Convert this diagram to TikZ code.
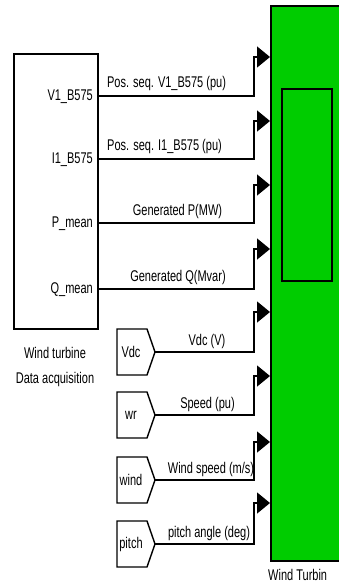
\documentclass[tikz,border=0pt]{standalone}
\usepackage{fontspec}
\setmainfont{Liberation Sans}[FakeStretch=0.71]
\usetikzlibrary{arrows.meta}
\definecolor{blkgreen}{RGB}{0,204,0}
\begin{document}
\begin{tikzpicture}[x=1pt,y=-1pt,
  txt/.style={font=\fontsize{15.5}{15.5}\selectfont, inner sep=0pt},
  conn/.style={line width=1.4pt, -{Triangle[length=13pt,width=21pt]}},
  blk/.style={draw=black, line width=1.4pt},
  tagshape/.style={draw=black, line width=1.4pt, fill=white}]
\useasboundingbox (0,0) rectangle (339,588);
\clip (0,0) rectangle (339,588);
\fill[white] (0,0) rectangle (339,588);
% Wind turbine block (green)
\filldraw[fill=blkgreen, draw=black, line width=1.3pt] (271,6) rectangle (350,561);
\draw[line width=1.4pt] (282,89) rectangle (332,281);
\node[txt, anchor=base west] (wtlabel) at (268,580) {Wind Turbin};
% Data acquisition block
\draw[blk] (14,54) rectangle (98,329);
\node[txt, anchor=base] (daq1) at (55,358) {Wind turbine};
\node[txt, anchor=base] (daq2) at (55,383) {Data acquisition};
% input coordinates
\coordinate (in1) at (270,57);
\coordinate (in2) at (270,121);
\coordinate (in3) at (270,185);
\coordinate (in4) at (270,249);
\coordinate (in5) at (270,312);
\coordinate (in6) at (270,376);
\coordinate (in7) at (270,442);
\coordinate (in8) at (270,503);
% output ports of data acquisition
\coordinate (o1) at (98,96);
\coordinate (o2) at (98,159);
\coordinate (o3) at (98,223);
\coordinate (o4) at (98,289);
\node[txt, anchor=east] (pl1) at (93,97) {V1\_B575};
\node[txt, anchor=east] (pl2) at (93,160) {I1\_B575};
\node[txt, anchor=east] (pl3) at (93,224) {P\_mean};
\node[txt, anchor=east] (pl4) at (93,290) {Q\_mean};
% from tags
\foreach \y/\t/\n in {352/Vdc/t5, 415/wr/t6, 480/wind/t7, 544/pitch/t8}{
  \path[tagshape] (117,\y-23) -- (147,\y-23) -- (155,\y) -- (147,\y+23) -- (117,\y+23) -- cycle;
  \coordinate (\n) at (155,\y);
  \node[txt] (\n lbl) at (131,\y) {\t};
}
% connectors
\draw[conn] (o1) -- (254,96) |- (in1);
\draw[conn] (o2) -- (254,159) |- (in2);
\draw[conn] (o3) -- (254,223) |- (in3);
\draw[conn] (o4) -- (254,289) |- (in4);
\draw[conn] (t5) -- (254,352) |- (in5);
\draw[conn] (t6) -- (254,415) |- (in6);
\draw[conn] (t7) -- (254,480) |- (in7);
\draw[conn] (t8) -- (254,544) |- (in8);
% signal labels
\node[txt, anchor=base] (s1) at (166.5,88) {Pos. seq. V1\_B575 (pu)};
\node[txt, anchor=base] (s2) at (164.5,151) {Pos. seq. I1\_B575 (pu)};
\node[txt, anchor=base] (s3) at (177.5,215) {Generated P(MW)};
\node[txt, anchor=base] (s4) at (178,281) {Generated Q(Mvar)};
\node[txt, anchor=base] (s5) at (207,345) {Vdc (V)};
\node[txt, anchor=base] (s6) at (207.5,408) {Speed (pu)};
\node[txt, anchor=base] (s7) at (211,473) {Wind speed (m/s)};
\node[txt, anchor=base] (s8) at (209,537) {pitch angle (deg)};
\end{tikzpicture}
\end{document}
